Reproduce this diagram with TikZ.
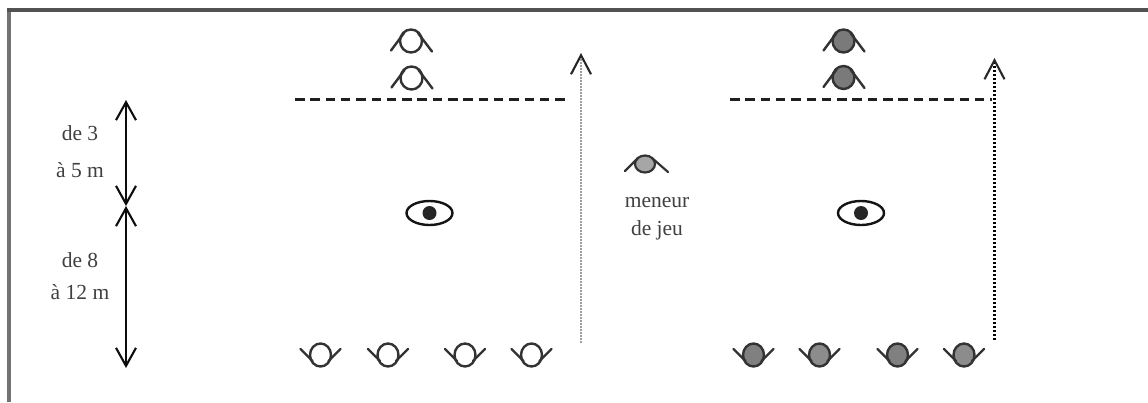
\documentclass[tikz,border=0pt]{standalone}
\usepackage{fontspec}
\setmainfont{Liberation Serif}
\usetikzlibrary{arrows.meta}
\tikzset{
  x=1pt,y=-1pt,
  lab/.style={font=\fontsize{21.5}{23}\selectfont,text=black!75,inner sep=0pt,anchor=center},
  dimline/.style={line width=2.2pt,black!95,{Straight Barb[length=18pt,width=20pt,line width=2.1pt]}-{Straight Barb[length=18pt,width=20pt,line width=2.1pt]}},
  dashline/.style={line width=2.2pt,black!88,dash pattern=on 9.5pt off 5.8pt},
  pics/eyeup/.style={code={
    \draw[black!80,line width=2.4pt,fill=#1] (0,0) ellipse[x radius=11,y radius=11.5];
    \draw[black!80,line width=2.4pt,line cap=round] (-20,9.5) -- (-7,-8) (7,-8) -- (21,10.5);
  }},
  pics/eyedown/.style={code={
    \draw[black!80,line width=2.4pt,fill=#1] (0,0) ellipse[x radius=10.5,y radius=11.5];
    \draw[black!80,line width=2.4pt,line cap=round] (-20,-6) -- (-8,6) (8,6) -- (20,-6);
  }},
  pics/eyefull/.style={code={
    \draw[black!92,line width=2.4pt] (0,0) ellipse[x radius=23,y radius=12];
    \fill[black!85] (0,0) circle[radius=7];
  }},
  pics/eyelead/.style={code={
    \draw[black!80,line width=2.2pt,fill=black!35] (0,0) ellipse[x radius=10,y radius=8.5];
    \draw[black!80,line width=2.2pt,line cap=round] (-20,7) -- (-7,-6) (7,-6) -- (23,8);
  }}
}
\begin{document}
\begin{tikzpicture}
\useasboundingbox (0,0) rectangle (1148,402);
% frame
\draw[line width=3.2pt,black!55] (9,402) -- (9,10);
\draw[line width=3.2pt,black!68] (7.4,10) -- (1148,10);
% dimension arrows
\coordinate (dimtop) at (126,100);
\coordinate (dimmid) at (126,206);
\coordinate (dimbot) at (126,368);
\draw[dimline] (dimtop) -- (dimmid);
\draw[dimline] (dimmid) -- (dimbot);
\node[lab] (t1) at (80,133) {de 3};
\node[lab] (t2) at (80,170) {à 5 m};
\node[lab] (t3) at (80,260) {de 8};
\node[lab] (t4) at (80,292) {à 12 m};
% left field
\coordinate (la) at (295,99.5);
\coordinate (lb) at (567,99.5);
\draw[dashline] (la) -- (lb);
\coordinate (larrs) at (581,343);
\coordinate (larre) at (581,53);
\draw[line width=2.2pt,black!38,dash pattern=on 1.8pt off 1.2pt,
  arrows={-{Straight Barb[length=19pt,width=20pt,line width=2.1pt,black!85]}}] (larrs) -- (larre);
\pic at (411,41) {eyeup=white};
\pic at (411.5,78) {eyeup=white};
\pic at (429.5,213) {eyefull};
\pic at (320.5,355) {eyedown=white};
\pic at (388,355) {eyedown=white};
\pic at (465,355) {eyedown=white};
\pic at (531.5,355) {eyedown=white};
% centre
\pic at (645,164) {eyelead};
\node[lab] (t5) at (657,203) {meneur};
\node[lab] (t6) at (657,230) {de jeu};
% right field
\coordinate (ra) at (730,99.5);
\coordinate (rb) at (992,99.5);
\draw[dashline] (ra) -- (rb);
\coordinate (rarrs) at (994.5,340);
\coordinate (rarre) at (994.5,58);
\draw[line width=2.1pt,black,dash pattern=on 2pt off 2pt,
  arrows={-{Straight Barb[length=19pt,width=20pt,line width=2.1pt,black!85]}}] (rarrs) -- (rarre);
\pic at (843.5,41) {eyeup=black!52};
\pic at (843.5,77.5) {eyeup=black!52};
\pic at (861,213) {eyefull};
\pic at (753.5,355) {eyedown=black!50};
\pic at (819.5,355) {eyedown=black!45};
\pic at (897.5,355) {eyedown=black!50};
\pic at (964,355) {eyedown=black!45};
\end{tikzpicture}
\end{document}
